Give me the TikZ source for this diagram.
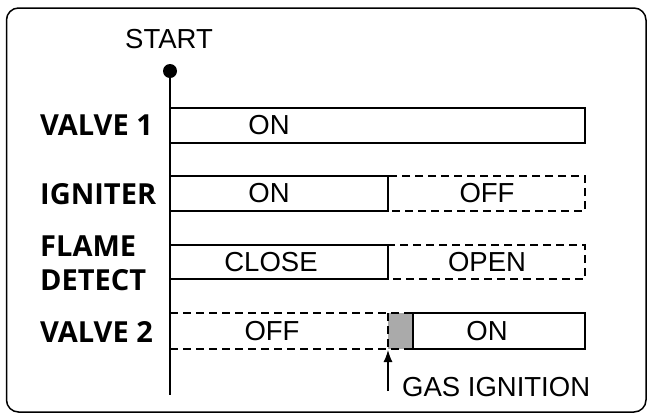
\documentclass[tikz,border=0pt]{standalone}
\usepackage{fontspec}
\setmainfont{Liberation Sans}
\newfontfamily\labelfont{Open Sans}
\usetikzlibrary{arrows.meta}
\definecolor{DelayGray}{RGB}{170,170,170}

\begin{document}
\begin{tikzpicture}[x=1pt,y=-1pt,>={Latex[length=12pt,width=9pt]},
  signame/.style={anchor=west,align=left,inner sep=0pt,
    font=\labelfont\bfseries\fontsize{29}{33.5}\selectfont},
  state/.style={inner sep=0pt,font=\fontsize{27.5}{30}\selectfont},
  active/.style={draw,line width=2.2pt},
  inactive/.style={draw,line width=1.8pt,dash pattern=on 8pt off 5pt}]
  \useasboundingbox (0,0) rectangle (648,416);
  \draw[line width=1.5pt,rounded corners=12pt] (6.5,8) rectangle (646,412);
  % time axis
  \coordinate (start) at (170,71);
  \coordinate (axisend) at (170,395);
  \node[state] (starttxt) at (169,39) {START};
  \draw[line width=2.6pt] (start)--(axisend);
  \fill (start) circle (7pt);
  % valve 1
  \node[signame] (v1) at (40,125.5) {VALVE 1};
  \draw[active] (170,108) rectangle (585,143);
  \node[state] (v1on) at (269,125.5) {ON};
  % igniter
  \node[signame] (ign) at (40,194) {IGNITER};
  \draw[inactive] (388,176) rectangle (585,211);
  \draw[active] (170,176) rectangle (388,211);
  \node[state] (ignon) at (269,193.5) {ON};
  \node[state] (ignoff) at (487,193.5) {OFF};
  % flame detect
  \node[signame] (fd) at (40,263) {FLAME\\DETECT};
  \draw[inactive] (388,245) rectangle (585,279);
  \draw[active] (170,245) rectangle (388,279);
  \node[state] (fdclose) at (271,262) {CLOSE};
  \node[state] (fdopen) at (487,262) {OPEN};
  % valve 2
  \node[signame] (v2) at (40,332) {VALVE 2};
  \fill[DelayGray] (388,313) rectangle (413,349);
  \draw[inactive] (170,313)--(413,313) (170,349)--(413,349) (388,313)--(388,349);
  \draw[active] (413,313) rectangle (585,349);
  \node[state] (v2off) at (272,331) {OFF};
  \node[state] (v2on) at (487,331) {ON};
  % ignition point
  \coordinate (ignpt) at (388,350);
  \coordinate (igntail) at (388,391);
  \draw[->,line width=1.2pt] (igntail)--(ignpt);
  \node[state,anchor=west] (gasign) at (402,387) {GAS IGNITION};
\end{tikzpicture}
\end{document}
